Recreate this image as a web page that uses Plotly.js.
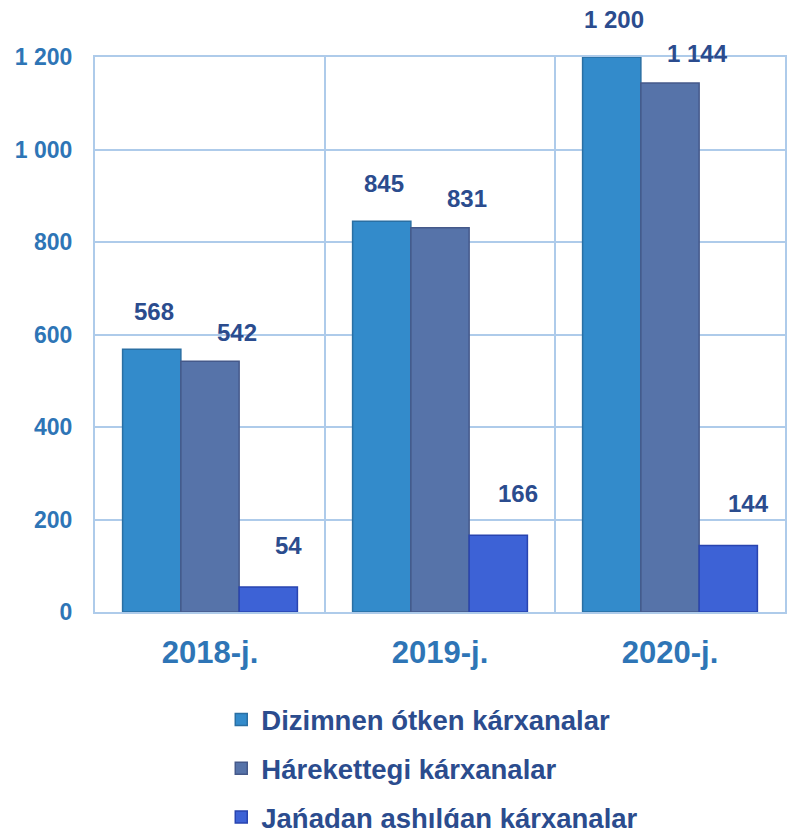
<!DOCTYPE html>
<html>
<head>
<meta charset="utf-8">
<script src="https://cdn.plot.ly/plotly-3.0.1.min.js"></script>
<style>html,body{margin:0;padding:0;background:#fff;}#chart{width:789px;height:828px;}</style>
</head>
<body>
<div id="chart"></div>
<script>
const categories = ["2018-j.", "2019-j.", "2020-j."];
const seriesNames = ["Dizimnen ótken kárxanalar", "Hárekettegi kárxanalar", "Jańadan ashılǵan kárxanalar"];
const registered = [568, 845, 1200];
const active = [542, 831, 1144];
const newlyOpened = [54, 166, 144];
const yTicks = [0, 200, 400, 600, 800, 1000, 1200];

const colors = ["#338BCB", "#5673A9", "#3D62D6"];
const edgeColors = ["#2A6FA3", "#45598A", "#2844B0"];
const values = [registered, active, newlyOpened];

// label placement (style): offsets in pixels relative to each group centre / bar top
const labelXShift = [-56, 27, 78];
const labelYShift = [38, 29, 42];

function fmt(v) {
  return String(v).replace(/\B(?=(\d{3})+(?!\d))/g, " ");
}

const traces = values.map((v, i) => ({
  type: "bar",
  name: seriesNames[i],
  x: categories,
  y: v,
  marker: {color: colors[i], line: {color: edgeColors[i], width: 1.5}},
  legendgroup: "g" + i
}));

const annotations = [];
values.forEach((v, i) => {
  v.forEach((val, j) => {
    annotations.push({
      x: categories[j], y: val, xref: "x", yref: "y",
      text: fmt(val), showarrow: false,
      xanchor: "center", yanchor: "middle",
      xshift: labelXShift[i], yshift: labelYShift[i],
      font: {family: "Liberation Sans, Arial, sans-serif", size: 24, color: "#2B4C8E", weight: "bold"}
    });
  });
});

const layout = {
  width: 789, height: 828,
  margin: {l: 95, r: 4, t: 57, b: 216},
  paper_bgcolor: "#fff", plot_bgcolor: "#fff",
  separators: ", ",
  barmode: "group",
  bargap: 0.24,
  bargroupgap: 0,
  font: {family: "Liberation Sans, Arial, sans-serif"},
  annotations: annotations,
  xaxis: {
    type: "category",
    tickson: "boundaries",
    tickangle: 0,
    showgrid: true, gridcolor: "#AECBEA", gridwidth: 2,
    showline: true, linecolor: "#AECBEA", linewidth: 2, mirror: true,
    ticks: "",
    tickfont: {size: 31, color: "#2E75B6", weight: "bold"},
    ticklabelstandoff: 12
  },
  yaxis: {
    range: [0, 1200],
    tickvals: yTicks,
    separatethousands: true,
    tickformat: ",d",
    showgrid: true, gridcolor: "#AECBEA", gridwidth: 2,
    showline: true, linecolor: "#AECBEA", linewidth: 2, mirror: true,
    zeroline: false,
    ticks: "",
    tickfont: {size: 23, color: "#2E75B6", weight: "bold"},
    ticklabelstandoff: 16
  },
  showlegend: true,
  legend: {
    orientation: "v",
    xref: "paper", yref: "container",
    x: 0.183, xanchor: "left",
    y: 1 - 695 / 828, yanchor: "top",
    traceorder: "grouped",
    tracegroupgap: 10,
    font: {size: 27.5, color: "#2B4C8E", weight: "bold"},
    itemwidth: 30
  }
};

Plotly.newPlot("chart", traces, layout, {displayModeBar: false, staticPlot: true});
</script>
</body>
</html>
